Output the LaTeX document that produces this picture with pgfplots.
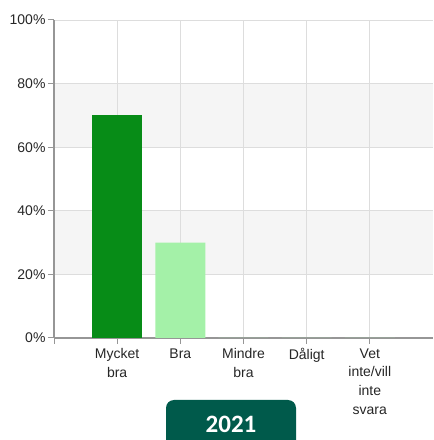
\documentclass[border=0pt]{standalone}
\usepackage{pgfplots}
\pgfplotsset{compat=1.18}
\usepackage{fontspec}
\setmainfont{Liberation Sans}
\newfontfamily\carlito{Carlito}
\definecolor{darkbar}{RGB}{7,140,23}
\definecolor{lightbar}{RGB}{164,241,168}
\definecolor{boxcol}{RGB}{0,90,75}
\definecolor{gridcol}{RGB}{221,221,221}
\definecolor{bandcol}{RGB}{245,245,245}
\definecolor{axiscol}{RGB}{150,150,150}
\begin{document}
\begin{tikzpicture}
\path (0pt,0pt) rectangle (433pt,440pt);
\begin{axis}[
  at={(54pt,102pt)}, anchor=south west,
  scale only axis, width=379pt, height=318pt,
  xmin=-1, xmax=5, ymin=0, ymax=100,
  set layers,
  axis x line=bottom, axis y line=left,
  axis line style={-, draw=axiscol, line width=1.2pt},
  tick align=outside,
  major tick length=6pt,
  tick style={draw=axiscol, line width=1pt},
  xtick={-1,0,1,2,3,4},
  xticklabels={,Mycket\\bra,Bra,Mindre\\bra,Dåligt,Vet\\inte/vill\\inte\\svara},
  xticklabel style={align=center, font=\fontsize{14}{18.7}\selectfont, text=black!85, yshift=-1pt},
  ytick={0,20,40,60,80,100},
  yticklabels={0\%,20\%,40\%,60\%,80\%,100\%},
  yticklabel style={font=\fontsize{14}{16}\selectfont, text=black!85, xshift=1pt},
  xmajorgrids, ymajorgrids,
  major grid style={draw=gridcol, line width=0.9pt},
]
\addplot[fill=bandcol, draw=none, on layer=axis background, forget plot, sharp plot] coordinates {(-1,20) (5,20) (5,40) (-1,40)} -- cycle;
\addplot[fill=bandcol, draw=none, on layer=axis background, forget plot, sharp plot] coordinates {(-1,60) (5,60) (5,80) (-1,80)} -- cycle;
\addplot[ybar, bar width=50pt, fill=darkbar, draw=none, bar shift=0pt] coordinates {(0,70)};
\addplot[ybar, bar width=50pt, fill=lightbar, draw=none, bar shift=0pt] coordinates {(1,30) (2,0) (3,0) (4,0)};
\end{axis}
\fill[boxcol] (166pt,0pt) -- (166pt,32pt) arc[start angle=180, end angle=90, radius=8pt] -- (288pt,40pt) arc[start angle=90, end angle=0, radius=8pt] -- (296pt,0pt) -- cycle;
\node[text=white, font=\carlito\bfseries\fontsize{25}{30}\selectfont] at (231pt,16pt) {2021};
\end{tikzpicture}
\end{document}
